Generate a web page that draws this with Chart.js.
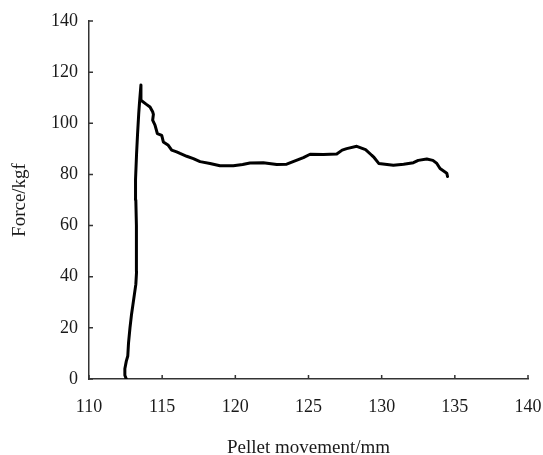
<!DOCTYPE html>
<html>
<head>
<meta charset="utf-8">
<script src="https://cdn.jsdelivr.net/npm/chart.js@4/dist/chart.umd.min.js"></script>
<style>
  html, body { margin: 0; padding: 0; background: #ffffff; }
  #wrap { width: 543px; height: 455px; }
</style>
</head>
<body>
<div id="wrap"><canvas id="c" width="543" height="455"></canvas></div>
<script>
// Pellet movement (mm) and the matching extrusion force (kgf)
const movement = [
  112.55, 112.45, 112.45, 112.55, 112.65, 112.70, 112.80, 112.90, 113.00, 113.10,
  113.20, 113.25, 113.25, 113.23, 113.20, 113.18, 113.25, 113.32, 113.40, 113.45,
  113.55, 113.55, 113.90, 114.17, 114.35, 114.40, 114.35, 114.51, 114.67, 114.97,
  115.08, 115.42, 115.65, 115.99, 116.22, 116.68, 117.13, 117.59, 118.27, 118.95,
  119.86, 120.50, 121.00, 121.91, 122.83, 123.51, 124.08, 124.65, 125.11, 126.02,
  126.93, 127.30, 127.61, 128.30, 128.90, 129.32, 129.44, 129.80, 130.80, 131.50,
  132.17, 132.50, 133.08, 133.50, 133.77, 133.99, 134.45, 134.50
];
const force = [
  0.0, 1.5, 4.0, 7.0, 9.0, 14.0, 20.0, 25.0, 29.0, 33.0,
  37.0, 42.0, 50.0, 60.0, 70.0, 78.0, 88.0, 96.0, 104.0, 108.0,
  115.0, 109.0, 107.5, 106.4, 104.5, 103.5, 101.2, 99.3, 96.0, 95.3,
  92.7, 91.4, 89.5, 88.8, 88.2, 87.1, 86.2, 85.0, 84.3, 83.4,
  83.4, 83.9, 84.5, 84.6, 83.9, 84.0, 85.3, 86.6, 87.9, 87.8,
  88.0, 89.5, 90.1, 91.0, 89.7, 87.5, 86.9, 84.3, 83.6, 84.0,
  84.6, 85.5, 86.0, 85.5, 84.3, 82.3, 80.5, 79.2
];

// Axis ranges and tick steps
const xRange = [110, 140];
const xStep = 5;
const yRange = [0, 140];
const yStep = 20;

const xTitle = 'Pellet movement/mm';
const yTitle = 'Force/kgf';

const points = movement.map((m, i) => ({ x: m, y: force[i] }));

const serif = 'Liberation Serif, Times New Roman, serif';
const axisColor = '#333333';

// Short tick marks pointing into the plot area
const innerTicks = {
  id: 'innerTicks',
  afterDraw(chart) {
    const ctx = chart.ctx;
    const xs = chart.scales.x, ys = chart.scales.y;
    const len = 4;
    ctx.save();
    ctx.strokeStyle = axisColor;
    ctx.lineWidth = 1.5;
    ctx.beginPath();
    xs.ticks.forEach(t => {
      const px = xs.getPixelForValue(t.value);
      ctx.moveTo(px, ys.bottom);
      ctx.lineTo(px, ys.bottom - len);
    });
    ys.ticks.forEach(t => {
      const py = ys.getPixelForValue(t.value);
      ctx.moveTo(xs.left, py);
      ctx.lineTo(xs.left + len, py);
    });
    ctx.stroke();
    ctx.restore();
  }
};

new Chart(document.getElementById('c'), {
  type: 'scatter',
  data: {
    datasets: [{
      data: points,
      showLine: true,
      borderColor: '#000000',
      borderWidth: 3,
      borderJoinStyle: 'round',
      borderCapStyle: 'round',
      pointRadius: 0,
      tension: 0
    }]
  },
  options: {
    responsive: false,
    animation: false,
    devicePixelRatio: 1,
    layout: { padding: { top: 21, right: 15, left: 0, bottom: 0 } },
    plugins: {
      legend: { display: false },
      tooltip: { enabled: false }
    },
    scales: {
      x: {
        type: 'linear',
        min: xRange[0],
        max: xRange[1],
        afterFit(scale) {
          scale.height = 76;
          scale.paddingLeft = 0;
          scale.paddingRight = 0;
        },
        ticks: {
          stepSize: xStep,
          padding: 17,
          color: '#1a1a1a',
          font: { family: serif, size: 18 },
          maxRotation: 0
        },
        grid: { display: false, drawTicks: false },
        border: { display: true, color: axisColor, width: 1.5 },
        title: {
          display: true,
          text: xTitle,
          color: '#1a1a1a',
          font: { family: serif, size: 19, lineHeight: 1 },
          padding: { top: 0, bottom: -3 }
        }
      },
      y: {
        type: 'linear',
        min: yRange[0],
        max: yRange[1],
        afterFit(scale) {
          scale.width = 89;
          scale.paddingTop = 0;
          scale.paddingBottom = 0;
        },
        ticks: {
          stepSize: yStep,
          padding: 11,
          color: '#1a1a1a',
          font: { family: serif, size: 18 }
        },
        grid: { display: false, drawTicks: false },
        border: { display: true, color: axisColor, width: 1.5 },
        title: {
          display: true,
          text: yTitle,
          color: '#1a1a1a',
          font: { family: serif, size: 19, lineHeight: 1 },
          padding: { top: 11, bottom: 0 }
        }
      }
    }
  },
  plugins: [innerTicks]
});
</script>
</body>
</html>
